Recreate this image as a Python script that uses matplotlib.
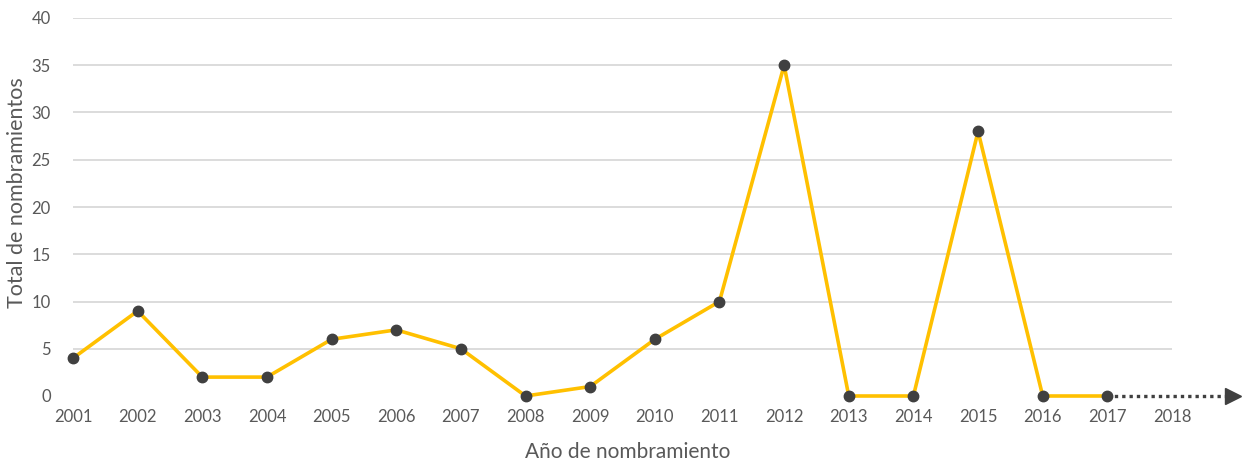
import numpy as np
import matplotlib.pyplot as plt

years = [2001, 2002, 2003, 2004, 2005, 2006, 2007, 2008, 2009,
         2010, 2011, 2012, 2013, 2014, 2015, 2016, 2017]
totals = [4, 9, 2, 2, 6, 7, 5, 0, 1, 6, 10, 35, 0, 0, 28, 0, 0]
tick_years = list(range(2001, 2019))
y_ticks = [0, 5, 10, 15, 20, 25, 30, 35, 40]
arrow_end = 2019.05

plt.rcParams['font.family'] = ['Lato', 'DejaVu Sans']
grey_text = '#595959'

fig = plt.figure(figsize=(12.44, 4.63), dpi=100)
ax = fig.add_axes([73 / 1244, 67 / 463, (1172 - 73) / 1244, (396 - 18) / 463])

for y in y_ticks[1:]:
    ax.axhline(y, color='#d9d9d9', linewidth=1.3, zorder=0)

# dotted continuation past the last year
ax.plot([years[-1], arrow_end - 0.1], [0, 0], color='#404040', linestyle=(0, (1, 1.2)),
        linewidth=2.4, clip_on=False, zorder=2)
ax.plot([arrow_end - 0.1], [0], marker='>', markersize=11, color='#404040',
        clip_on=False, zorder=2)

ax.plot(years, totals, color='#FFC000', linewidth=2.6, zorder=3, clip_on=False)
ax.plot(years, totals, linestyle='none', marker='o', markersize=7.5,
        color='#404040', zorder=4, clip_on=False)

ax.set_xlim(2001, 2018)
ax.set_ylim(0, 40)
ax.set_xticks(tick_years)
ax.set_xticklabels([str(y) for y in tick_years])
ax.set_yticks(y_ticks)
for s in ax.spines.values():
    s.set_visible(False)
ax.tick_params(axis='both', length=0, labelsize=12, colors=grey_text)
ax.tick_params(axis='x', pad=9)
ax.tick_params(axis='y', pad=16)

ax.set_xlabel('Año de nombramiento', fontsize=15, color=grey_text)
ax.xaxis.set_label_coords(0.505, -0.122)
ax.set_ylabel('Total de nombramientos', fontsize=15.5, color=grey_text)
ax.yaxis.set_label_coords(-0.042, 0.537)

fig.savefig('out.png', dpi=100)
